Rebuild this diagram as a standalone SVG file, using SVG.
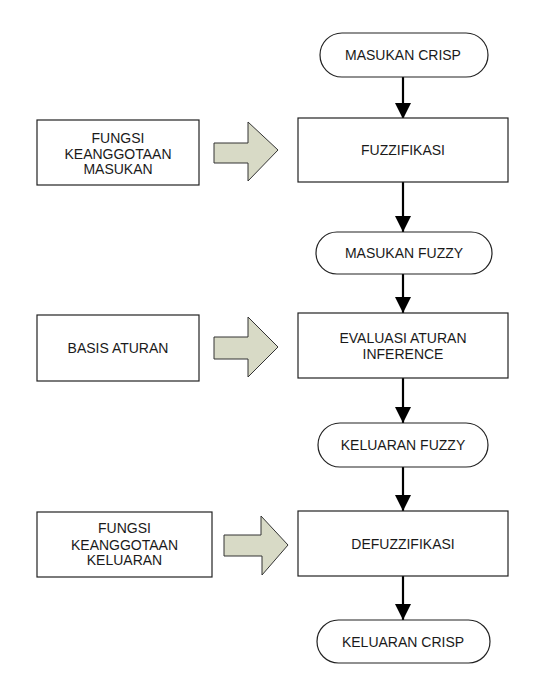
<svg xmlns="http://www.w3.org/2000/svg" width="538" height="700" viewBox="0 0 538 700">
<defs>
<style>
.box{fill:#fff;stroke:#222;stroke-width:1.2}
.t{font-family:"Liberation Sans",Arial,sans-serif;font-size:14px;fill:#1a1a1a;text-anchor:middle}
.big{fill:#d8dac6;stroke:#333;stroke-width:1}
.con{stroke:#000;stroke-width:2.2;fill:none;marker-end:url(#ah)}
</style>
<marker id="ah" markerUnits="userSpaceOnUse" markerWidth="16" markerHeight="18" refX="16" refY="8" orient="auto">
<path d="M0,0 L16,8 L0,16 Z" fill="#000"/>
</marker>
</defs>
<rect width="538" height="700" fill="#fff"/>
<g id="connectors">
<line class="con" x1="403" y1="77" x2="403" y2="119"/>
<line class="con" x1="403" y1="182" x2="403" y2="232"/>
<line class="con" x1="403" y1="274" x2="403" y2="313"/>
<line class="con" x1="403" y1="378" x2="403" y2="423"/>
<line class="con" x1="403" y1="467" x2="403" y2="511"/>
<line class="con" x1="403" y1="576" x2="403" y2="620"/>
<polygon class="big" points="214,143 248,143 248,122 278,150 248,181 248,163 214,163"/>
<polygon class="big" points="214,337 248,337 248,317 278,347 248,377 248,359 214,359"/>
<polygon class="big" points="224,535 261,535 261,516 288,545 262,575 262,556 224,556"/>
</g>
<g id="masukan-crisp">
<rect class="box" x="320" y="33" width="168" height="44" rx="22"/>
<text class="t" x="403" y="60">MASUKAN CRISP</text>
</g>
<g id="fuzzifikasi">
<rect class="box" x="298" y="118" width="210" height="64"/>
<text class="t" x="403" y="155">FUZZIFIKASI</text>
</g>
<g id="fungsi-masukan">
<rect class="box" x="37" y="120" width="162" height="65"/>
<text class="t" x="118" y="142.5">FUNGSI</text>
<text class="t" x="118" y="158.5">KEANGGOTAAN</text>
<text class="t" x="118" y="174">MASUKAN</text>
</g>
<g id="masukan-fuzzy">
<rect class="box" x="316" y="232" width="176" height="42" rx="21"/>
<text class="t" x="404" y="258">MASUKAN FUZZY</text>
</g>
<g id="evaluasi">
<rect class="box" x="298" y="313" width="210" height="65"/>
<text class="t" x="403" y="343">EVALUASI ATURAN</text>
<text class="t" x="403" y="359">INFERENCE</text>
</g>
<g id="basis-aturan">
<rect class="box" x="37" y="315" width="162" height="66"/>
<text class="t" x="118" y="353">BASIS ATURAN</text>
</g>
<g id="keluaran-fuzzy">
<rect class="box" x="318" y="423" width="170" height="44" rx="22"/>
<text class="t" x="403" y="450">KELUARAN FUZZY</text>
</g>
<g id="defuzzifikasi">
<rect class="box" x="298" y="511" width="210" height="65"/>
<text class="t" x="403" y="549">DEFUZZIFIKASI</text>
</g>
<g id="fungsi-keluaran">
<rect class="box" x="37" y="512" width="175" height="65"/>
<text class="t" x="124.5" y="533">FUNGSI</text>
<text class="t" x="124.5" y="549.5">KEANGGOTAAN</text>
<text class="t" x="124.5" y="565">KELUARAN</text>
</g>
<g id="keluaran-crisp">
<rect class="box" x="317" y="620" width="173" height="43" rx="21.5"/>
<text class="t" x="403" y="647">KELUARAN CRISP</text>
</g>
</svg>
